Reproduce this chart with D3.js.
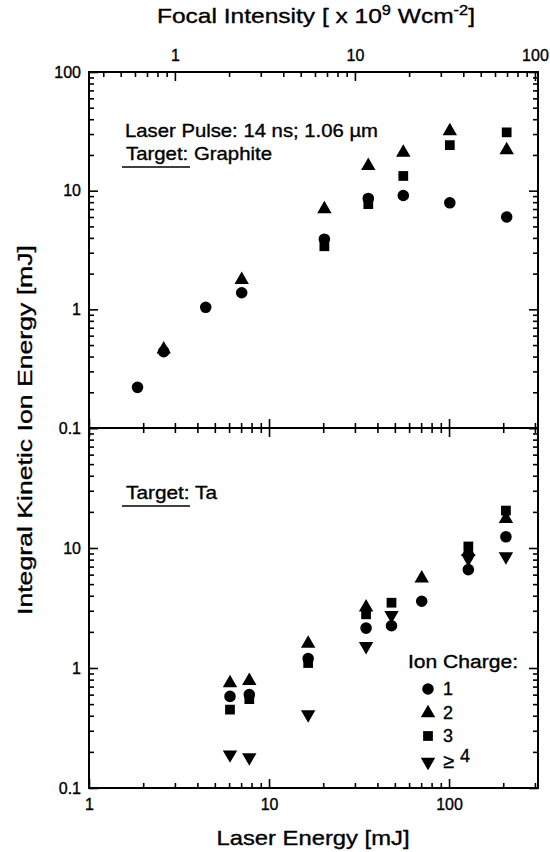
<!DOCTYPE html>
<html>
<head>
<meta charset="utf-8">
<script src="https://cdn.jsdelivr.net/npm/d3@7"></script>
<style>
  body { margin: 0; background: white; }
  text { font-family: "Liberation Sans", Arial, Helvetica, sans-serif; fill: black; stroke: black; stroke-width: 0.35px; }
</style>
</head>
<body>
<div id="chart"></div>
<script>
// Graphite target (top panel)
const grEnergy = [1.86, 2.6, 4.45, 7.05, 20.3, 35.6, 55.7, 101, 209];
const grQ1 = [0.22, 0.44, 1.04, 1.38, 3.9, 8.6, 9.1, 7.9, 6.0];
const grQ2 = [null, 0.46, null, 1.77, 7.0, 16.2, 20.9, 31.8, 22];
const grQ3 = [null, null, null, null, 3.4, 7.7, 13.3, 24.2, 31];

// Ta target (bottom panel)
const taEnergy = [6.07, 7.77, 16.5, 34.6, 47.9, 70.5, 128, 207];
const taQ1 = [0.58, 0.6, 1.2, 2.15, 2.25, 3.6, 6.6, 12.4];
const taQ2 = [0.75, 0.78, 1.6, 3.2, null, 5.6, 9.3, 17.5];
const taQ3 = [0.45, 0.55, 1.1, 2.8, 3.5, null, 10.3, 20.5];
const taQ4 = [0.19, 0.18, 0.41, 1.52, 2.75, null, 8.2, 8.5];

const chargeLabels = ["1", "2", "3", "\u2265"];

const W = 550, H = 852;
const left = 89, right = 538, topY = 72, midY = 428, botY = 788;

const svg = d3.select("#chart").append("svg")
    .attr("width", W)
    .attr("height", H);

// scales
const x = d3.scaleLog().domain([1, 312]).range([left, right]);
const xTop = d3.scaleLog().domain([1 / 3, 104]).range([left, right]);
const yTop = d3.scaleLog().domain([0.1, 100]).range([midY, topY]);
const yBot = d3.scaleLog().domain([0.1, 100]).range([botY, midY]);

const isMajor = d => Math.abs(Math.log10(d) - Math.round(Math.log10(d))) < 1e-6;

// inward ticks (minor + major) with d3 axes
function ticks(axisFn, scale, pos, showLabels, labelFilter) {
    const all = scale.ticks();
    const minor = all.filter(d => !isMajor(d));
    const major = all.filter(isMajor);
    const g = svg.append("g").attr("transform", pos);
    g.append("g").call(axisFn(scale).tickValues(minor).tickSize(-5).tickFormat(""));
    const gm = g.append("g").call(axisFn(scale).tickValues(major).tickSize(-9)
        .tickPadding(showLabels ? 8 : 0)
        .tickFormat(d => showLabels && (!labelFilter || labelFilter(d)) ? (d >= 1 ? d3.format("d")(d) : "0.1") : ""));
    g.selectAll(".domain").remove();
    g.selectAll(".tick line").attr("stroke", "black").attr("stroke-width", 1.6);
    gm.selectAll("text").style("font-size", "16px").attr("fill", "black");
    return gm;
}

// x ticks
ticks(d3.axisBottom, x, `translate(0,${botY})`, true).selectAll("text").attr("dy", "0.9em");
ticks(d3.axisBottom, x, `translate(0,${midY})`, false);
ticks(d3.axisTop, x, `translate(0,${midY})`, false);
ticks(d3.axisTop, xTop, `translate(0,${topY})`, true).selectAll("text").attr("dy", "-0.2em");

// y ticks
ticks(d3.axisLeft, yTop, `translate(${left},0)`, true);
ticks(d3.axisRight, yTop, `translate(${right},0)`, false);
ticks(d3.axisLeft, yBot, `translate(${left},0)`, true, d => d < 50);
ticks(d3.axisRight, yBot, `translate(${right},0)`, false);

// frames
[[topY, midY], [midY, botY]].forEach(([a, b]) => {
    svg.append("rect")
        .attr("x", left).attr("y", a)
        .attr("width", right - left).attr("height", b - a)
        .attr("fill", "none").attr("stroke", "black").attr("stroke-width", 2);
});

// symbols
const symCircle = d3.symbol().type(d3.symbolCircle).size(105);
const symTri = d3.symbol().type(d3.symbolTriangle).size(90);
const symSq = d3.symbol().type(d3.symbolSquare).size(95);
const symbols = [
    { path: symCircle(), rot: 0 },
    { path: symTri(), rot: 0 },
    { path: symSq(), rot: 0 },
    { path: symTri(), rot: 180 }
];

function plotSeries(energy, values, yScale, sym) {
    const pts = energy.map((e, i) => [e, values[i]]).filter(p => p[1] != null);
    svg.append("g").selectAll("path")
        .data(pts)
        .join("path")
        .attr("d", sym.path)
        .attr("fill", "black")
        .attr("transform", d => `translate(${x(d[0])},${yScale(d[1])}) rotate(${sym.rot})`);
}

[grQ1, grQ2, grQ3].forEach((s, i) => plotSeries(grEnergy, s, yTop, symbols[i]));
[taQ1, taQ2, taQ3, taQ4].forEach((s, i) => plotSeries(taEnergy, s, yBot, symbols[i]));

// text helper, stretched to the width seen in the picture
function label(xp, yp, str, size, len, anchor) {
    const t = svg.append("text").attr("x", xp).attr("y", yp)
        .style("font-size", size + "px").text(str);
    if (len) t.attr("textLength", len).attr("lengthAdjust", "spacingAndGlyphs");
    if (anchor) t.attr("text-anchor", anchor);
    return t;
}

// annotations
label(125, 137, "Laser Pulse: 14 ns; 1.06 \u00b5m", 19, 253);
label(126, 160, "Target: Graphite", 19, 146);
svg.append("line").attr("x1", 122).attr("x2", 190).attr("y1", 167).attr("y2", 167)
    .attr("stroke", "black").attr("stroke-width", 1.6);
label(126, 499, "Target: Ta", 19, 91);
svg.append("line").attr("x1", 122).attr("x2", 190).attr("y1", 506).attr("y2", 506)
    .attr("stroke", "black").attr("stroke-width", 1.6);

// legend
label(408, 668, "Ion Charge:", 18, 110);
const legY = [689, 713, 736, 762];
chargeLabels.forEach((lab, i) => {
    svg.append("path").attr("d", symbols[i].path).attr("fill", "black")
        .attr("transform", `translate(428,${legY[i]}) rotate(${symbols[i].rot})`);
    const t = label(443, legY[i] + 6, lab, i === 3 ? 20 : 18);
    if (i === 3) t.append("tspan").attr("dx", 6).attr("dy", -6).style("font-size", "18px").text("4");
});

// axis titles
const tt = svg.append("text").attr("x", 316).attr("y", 23)
    .attr("text-anchor", "middle").style("font-size", "21px");
tt.append("tspan").text("Focal Intensity [ x 10");
tt.append("tspan").attr("dy", -8).style("font-size", "14px").text("9");
tt.append("tspan").attr("dy", 8).text(" Wcm");
tt.append("tspan").attr("dy", -8).style("font-size", "14px").text("-2");
tt.append("tspan").attr("dy", 8).text("]");
tt.attr("textLength", 318).attr("lengthAdjust", "spacingAndGlyphs");

label(313, 845, "Laser Energy [mJ]", 21, 193, "middle");

svg.append("text")
    .attr("transform", `translate(32,${(topY + botY) / 2}) rotate(-90)`)
    .attr("text-anchor", "middle").style("font-size", "21px")
    .attr("textLength", 370).attr("lengthAdjust", "spacingAndGlyphs")
    .text("Integral Kinetic Ion Energy [mJ]");
</script>
</body>
</html>
